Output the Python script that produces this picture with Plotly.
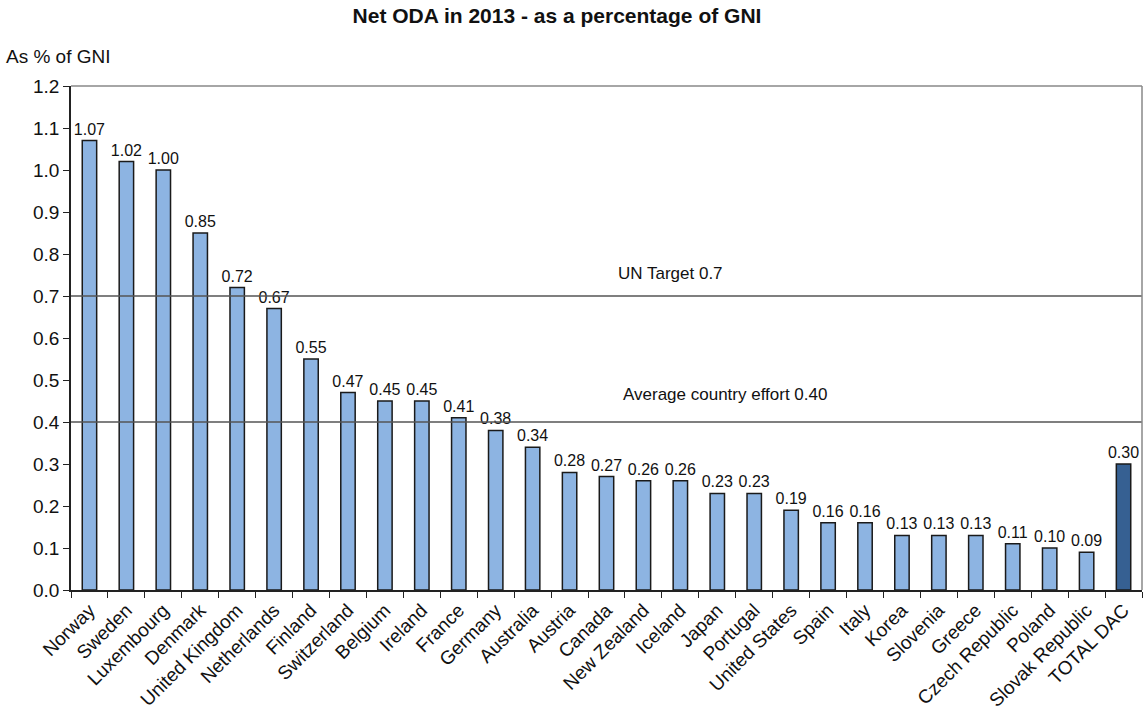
import plotly.graph_objects as go

countries = ["Norway", "Sweden", "Luxembourg", "Denmark", "United Kingdom", "Netherlands",
             "Finland", "Switzerland", "Belgium", "Ireland", "France", "Germany", "Australia",
             "Austria", "Canada", "New Zealand", "Iceland", "Japan", "Portugal", "United States",
             "Spain", "Italy", "Korea", "Slovenia", "Greece", "Czech Republic", "Poland",
             "Slovak Republic", "TOTAL DAC"]
values = [1.07, 1.02, 1.00, 0.85, 0.72, 0.67, 0.55, 0.47, 0.45, 0.45, 0.41, 0.38, 0.34,
          0.28, 0.27, 0.26, 0.26, 0.23, 0.23, 0.19, 0.16, 0.16, 0.13, 0.13, 0.13, 0.11,
          0.10, 0.09, 0.30]
un_target = 0.7
avg_effort = 0.40
y_ticks = [0.0, 0.1, 0.2, 0.3, 0.4, 0.5, 0.6, 0.7, 0.8, 0.9, 1.0, 1.1, 1.2]

colors = ["#8DB4E2"] * (len(countries) - 1) + ["#366092"]

fig = go.Figure()
fig.add_trace(go.Bar(
    x=countries, y=values,
    marker=dict(color=colors, line=dict(color="#1a1a1a", width=1.5)),
    text=[f"{v:.2f}" for v in values], textposition="outside",
    textfont=dict(family="Liberation Sans, Arial", size=16, color="#111"),
    constraintext="none",
    cliponaxis=False,
))

fig.add_hline(y=un_target, line=dict(color="#555555", width=1.5))
fig.add_hline(y=avg_effort, line=dict(color="#555555", width=1.5))

fig.add_annotation(x=0.56, xref="paper", y=un_target, yref="y", text="UN Target 0.7",
                   showarrow=False, yshift=23, font=dict(size=17, color="#111"))
fig.add_annotation(x=0.611, xref="paper", y=avg_effort, yref="y", text="Average country effort 0.40",
                   showarrow=False, yshift=28, font=dict(size=17, color="#111"))

fig.add_annotation(x=-0.0625, xref="paper", xanchor="left", y=1.0595, yref="paper",
                   yanchor="middle", text="As % of GNI",
                   showarrow=False, font=dict(size=19, color="#111"))

# frame top/right
fig.add_shape(type="line", xref="paper", yref="paper", x0=0, x1=1, y0=1, y1=1,
              line=dict(color="#888888", width=1.5))
fig.add_shape(type="line", xref="paper", yref="paper", x0=1, x1=1, y0=0, y1=1,
              line=dict(color="#888888", width=1.5))

fig.update_layout(
    width=1146, height=717,
    margin=dict(l=71, r=4, t=86, b=127),
    paper_bgcolor="white", plot_bgcolor="white",
    font=dict(family="Liberation Sans, Arial", color="#111"),
    title=dict(text="<b>Net ODA in 2013 - as a percentage of GNI</b>", x=0.486, xanchor="center",
               y=0.978, yanchor="middle", font=dict(size=21, color="#111")),
    bargap=0.61,
    showlegend=False,
)
fig.update_xaxes(tickangle=-45, tickfont=dict(size=19), showline=True, linecolor="#222",
                 linewidth=1.5, ticks="outside", tickson="boundaries", ticklen=6,
                 tickcolor="#222", showgrid=False)
fig.update_yaxes(range=[0, 1.2], tickvals=y_ticks, tickformat=".1f", tickfont=dict(size=19),
                 showline=True, linecolor="#222", linewidth=1.5, ticks="outside", ticklen=6,
                 tickcolor="#222", showgrid=False, zeroline=False)

fig.write_html("out.html", config={"displayModeBar": False},
               post_script="document.body.style.margin='0';")
